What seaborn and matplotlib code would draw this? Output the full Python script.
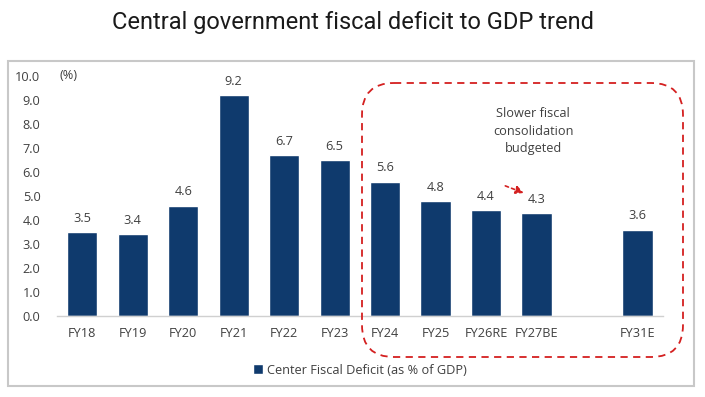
import matplotlib
matplotlib.use("Agg")
import matplotlib.pyplot as plt
import seaborn as sns
import pandas as pd
from matplotlib.patches import FancyBboxPatch, Rectangle

years = ["FY18", "FY19", "FY20", "FY21", "FY22", "FY23", "FY24", "FY25",
         "FY26RE", "FY27BE", "FY31E"]
deficit = [3.5, 3.4, 4.6, 9.2, 6.7, 6.5, 5.6, 4.8, 4.4, 4.3, 3.6]
# blank slot between FY27BE and FY31E
order = years[:10] + [" "] + years[10:]
series_name = "Center Fiscal Deficit (as % of GDP)"

BAR = "#0f3a6d"
TXT = "#404040"

sns.set_theme(style="white")
plt.rcParams["font.family"] = ["Open Sans", "DejaVu Sans"]

df = pd.DataFrame({"year": years, "value": deficit, "series": series_name})

fig = plt.figure(figsize=(7.05, 3.97), dpi=100)
ax = fig.add_axes([0.081, 0.204, 0.859, 0.605])

sns.barplot(data=df, x="year", y="value", hue="series", order=order,
            palette=[BAR], width=0.6, ax=ax, saturation=1)

for i, name in enumerate(order):
    if name.strip():
        v = deficit[years.index(name)]
        ax.text(i, v + 0.3, f"{v:.1f}", ha="center", va="bottom",
                fontsize=9.2, color=TXT)

ax.set_ylim(0, 10)
ax.set_xlim(-0.5, 11.5)
ax.set_yticks([i for i in range(11)])
ax.set_yticklabels([f"{i:.1f}" for i in range(11)])
ax.set_xlabel("")
ax.set_ylabel("")
ax.tick_params(axis="both", length=0, labelsize=9.2, colors=TXT)
ax.tick_params(axis="x", pad=8)
ax.tick_params(axis="y", pad=12)
for s in ["top", "right", "left"]:
    ax.spines[s].set_visible(False)
ax.spines["bottom"].set_color("#d0d0d0")
ax.spines["bottom"].set_linewidth(1)

ax.text(-0.45, 10.0, "(%)", ha="left", va="center", fontsize=9.2, color=TXT)

# legend below
leg = ax.legend(loc="upper center", bbox_to_anchor=(0.5, -0.15), frameon=False,
                fontsize=9.2, handlelength=0.8, handleheight=0.8,
                handletextpad=0.3)
for t in leg.get_texts():
    t.set_color(TXT)

# annotation text and arrow
ax.text(8.93, 7.7, "Slower fiscal\nconsolidation\nbudgeted", ha="center",
        va="center", fontsize=9.2, color=TXT, linespacing=1.45)
ax.annotate("", xy=(8.8, 5.08), xytext=(8.33, 5.46),
            arrowprops=dict(arrowstyle="-|>", color="#d42020", lw=1.2,
                            linestyle=(0, (2, 2)), mutation_scale=12))

# overlay in pixel coordinates for frame and dashed box
ov = fig.add_axes([0, 0, 1, 1], zorder=5)
ov.set_xlim(0, 705)
ov.set_ylim(397, 0)
ov.axis("off")
ov.patch.set_alpha(0)
ov.add_patch(Rectangle((8, 61), 686, 325, fill=False, ec="#c8c8c8", lw=1.5))
ov.add_patch(FancyBboxPatch((362, 83), 321, 274,
                            boxstyle="round,pad=0,rounding_size=32",
                            fill=False, ec="#d42020", lw=1.3,
                            linestyle=(0, (4, 3))))

fig.text(0.5, 0.943, "Central government fiscal deficit to GDP trend",
         ha="center", va="center", fontsize=17, color="#1a1a1a",
         family=["Roboto", "DejaVu Sans"])

fig.savefig("out.png", dpi=100, facecolor="white")
